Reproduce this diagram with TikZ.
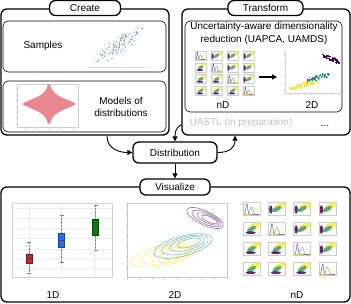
\documentclass[tikz,border=0pt]{standalone}
\usepackage{fontspec}
\setmainfont{Liberation Sans}
\usetikzlibrary{arrows.meta,positioning,calc}
\definecolor{vpurple}{RGB}{68,1,84}
\definecolor{vteal}{RGB}{33,145,140}
\definecolor{vyellow}{RGB}{253,231,37}
\definecolor{sblue}{RGB}{31,119,180}
\definecolor{violinred}{RGB}{232,136,142}
\definecolor{boxred}{RGB}{214,30,40}
\definecolor{boxblue}{RGB}{30,110,255}
\definecolor{boxgreen}{RGB}{0,128,0}
\tikzset{
  panel/.style={draw,line width=1.3pt,rounded corners=6pt,inner sep=0pt},
  tab/.style={draw,fill=white,line width=1.3pt,rounded corners=6pt,minimum height=15pt,inner sep=0pt},
  subpanel/.style={draw,line width=0.6pt,rounded corners=5pt,inner sep=0pt},
  flow/.style={-{Triangle[length=5pt,width=5pt]},line width=0.9pt},
  frm/.style={draw=gray!40,line width=0.35pt},
  dens/.style={line width=0.4pt,opacity=0.8},
}
\newcommand{\pairgrid}[6]{%
  \foreach \r in {0,...,3}{
    \foreach \c in {0,...,3}{
      \begin{scope}[shift={({#1+\c*#3},{#2+\r*#4+#6})},x=#5pt,y=#6pt]
        \draw[frm] (0,0) rectangle (1,1);
        \ifnum\r=\c\relax
          \draw[dens,vpurple] plot[domain=0.05:0.95,samples=25] (\x,{0.05+0.85*exp(-((\x-0.22)/0.07)^2)});
          \draw[dens,vteal] plot[domain=0.05:0.95,samples=25] (\x,{0.05+0.55*exp(-((\x-0.5)/0.12)^2)});
          \draw[dens,vyellow!90!orange] plot[domain=0.05:0.95,samples=25] (\x,{0.05+0.5*exp(-((\x-0.76)/0.11)^2)});
        \else
          \fill[vyellow,opacity=0.75,rotate around={30:(0.64,0.64)}] (0.64,0.64) ellipse[x radius={0.4*#5pt},y radius={0.19*#5pt}];
          \fill[vteal,opacity=0.75,rotate around={30:(0.5,0.46)}] (0.5,0.46) ellipse[x radius={0.3*#5pt},y radius={0.13*#5pt}];
          \ifnum\c>\r\relax
            \fill[vpurple,opacity=0.85] (0.15,0.42) ellipse[x radius={0.1*#5pt},y radius={0.33*#6pt}];
          \else
            \fill[vpurple,opacity=0.85] (0.45,0.18) ellipse[x radius={0.3*#5pt},y radius={0.11*#6pt}];
          \fi
        \fi
      \end{scope}
    }
  }%
}
\newcommand{\boxp}[7]{%
  \draw[gray,densely dotted,line width=0.4pt] (#1,#2) -- (#1,#6);
  \draw[gray,line width=0.4pt] ({#1-2},#2) -- ({#1+2},#2) ({#1-2},#6) -- ({#1+2},#6);
  \filldraw[fill=#7,draw=#7!60!black,line width=0.3pt] ({#1-3},#3) rectangle ({#1+3},#5);
  \draw[black!70,line width=0.4pt] ({#1-3},#4) -- ({#1+3},#4);
}
\begin{document}
\begin{tikzpicture}[x=1pt,y=-1pt,font=\fontsize{10}{12}\selectfont]
  \useasboundingbox (0,0) rectangle (351,303);
  % panels
  \node[panel,minimum width=168pt,minimum height=126pt] (create) at (85,72) {};
  \node[tab,minimum width=71pt] (createtab) at (85,8) {Create};
  \node[subpanel,minimum width=163pt,minimum height=51pt] (samplesbox) at (84.5,46.5) {};
  \node[subpanel,minimum width=163pt,minimum height=51pt] (modelsbox) at (84.5,106.5) {};
  \node (samples) at (43,46) {Samples};
  \node[align=center] (models) at (121,107) {Models of\\distributions};

  \node[panel,minimum width=168pt,minimum height=126pt] (transform) at (266,72) {};
  \node[tab,minimum width=75pt] (transformtab) at (265.5,8) {Transform};
  \node[subpanel,minimum width=157pt,minimum height=91pt] (drbox) at (263.5,66.5) {};
  \node[align=center,font=\fontsize{10}{13}\selectfont] (dr) at (264,33.5) {Uncertainty-aware dimensionality\\reduction (UAPCA, UAMDS)};
  \node (ndlabel) at (223,105) {nD};
  \node (twodlabel) at (312,105) {2D};
  \node[anchor=west,text=gray!50] (uastl) at (186,123) {UASTL (in preparation)};
  \node (dots) at (325,126) {...};

  \node[tab,minimum width=84pt,minimum height=21pt] (dist) at (175,152.5) {Distribution};

  \node[panel,minimum width=349pt,minimum height=115pt] (visualize) at (175.5,244.5) {};
  \node[tab,minimum width=70pt,minimum height=16pt] (vistab) at (175,187) {Visualize};
  \node (onedv) at (53,295) {1D};
  \node (twodv) at (175,295) {2D};
  \node (ndv) at (297,295) {nD};

  % connectors
  \draw[flow] ([xshift=22pt]create.south) .. controls +(0,14) and +(-12,0) .. (dist.west);
  \draw[flow] (dist.east) .. controls +(12,0) and +(0,12) .. ([xshift=-31pt]transform.south);
  \coordinate (tleft) at ($(transform.south west)+(0,-11)$);
  \draw[flow] (tleft) .. controls +(-6,3) and +(0,-8) .. (dist.north);
  \draw[flow] (dist.south) -- (vistab.north);

  % samples
  \draw[gray!30,line width=0.4pt] (88,67) -- (145,67);
  \pgfmathsetseed{7}
  \foreach \k in {1,...,110}{
    \pgfmathsetmacro\t{0.7*(rand+rand)}
    \pgfmathsetmacro\px{116+17*\t+6*rand}
    \pgfmathsetmacro\py{46-11*\t+6*rand}
    \fill[sblue!55] (\px,\py) rectangle ++(1.1,1.1);
  }

  % violin
  \draw[frm] (17,84) rectangle (78,127);
  \foreach \ty in {88,94,...,124} \draw[gray!40,line width=0.3pt] (17,\ty) -- (15.5,\ty);
  \foreach \tx in {24,36,...,72} \draw[gray!40,line width=0.3pt] (\tx,127) -- (\tx,128.5);
  \fill[violinred] plot[domain=-19.5:19.5,samples=80] ({49.8+25.5*exp(-(abs(\x)/8)^1.5)},{104+\x})
    -- plot[domain=19.5:-19.5,samples=80] ({48.2-25.5*exp(-(abs(\x)/8)^1.5)},{104+\x}) -- cycle;

  % nD -> 2D
  \pairgrid{195}{51}{16}{11.7}{11}{9}
  \coordinate (nda) at (259,77);
  \coordinate (ndb) at (277,77);
  \draw[-{Triangle[length=5pt,width=5pt]},line width=1.2pt] (nda) -- (ndb);
  \draw[gray!35,line width=0.35pt] (285,51) -- (285,93) -- (342,93);
  \foreach \ty in {55,62,...,90} \draw[gray!40,line width=0.3pt] (285,\ty) -- (283.5,\ty);
  \foreach \tx in {290,297,...,340} \draw[gray!40,line width=0.3pt] (\tx,93) -- (\tx,94.5);
  \foreach \k in {1,...,70}{
    \pgfmathsetmacro\t{rand}
    \fill[vpurple] ({331+8*\t+2*rand},{58+3.5*\t+1.8*rand}) rectangle ++(1.3,1.3);
  }
  \foreach \k in {1,...,70}{
    \pgfmathsetmacro\t{rand}
    \fill[vteal] ({317+11*\t+3*rand},{77-3.5*\t+2.3*rand}) rectangle ++(1.3,1.3);
  }
  \foreach \k in {1,...,90}{
    \pgfmathsetmacro\t{rand}
    \fill[vyellow] ({302+13*\t+3*rand},{85-3.5*\t+2.3*rand}) rectangle ++(1.3,1.3);
  }

  % 1D boxplot
  \foreach \ty in {208,218,228,238,249,259,268} \draw[gray!15,line width=0.3pt] (12,\ty) -- (112,\ty);
  \foreach \tx in {29,61.5,95.5} \draw[gray!15,line width=0.3pt] (\tx,203) -- (\tx,277);
  \draw[gray!35,line width=0.4pt] (12,203) rectangle (112,277);
  \boxp{29}{242}{254}{258}{263}{273}{boxred}
  \boxp{61.5}{215}{233}{240}{247}{262}{boxblue}
  \boxp{95.5}{205}{219}{226}{235}{250}{boxgreen}

  % 2D contours
  \draw[gray!45,line width=0.4pt] (127,203) rectangle (227,277);
  \foreach \tx in {127,139.5,...,227} \draw[gray!50,line width=0.3pt] (\tx,277) -- (\tx,278.5);
  \foreach \ty in {204,214.5,...,277} \draw[gray!50,line width=0.3pt] (127,\ty) -- (125.5,\ty);
  \foreach \a/\b/\cx/\cy in {35/10/165/255,28/8/168/254.5,21/6/171/254,14/4/174/253.5}
    \draw[vyellow!90!orange,opacity=0.6,line width=0.6pt,rotate around={12:(\cx,\cy)}] (\cx,\cy) ellipse[x radius=\a pt,y radius=\b pt];
  \foreach \a/\b/\cx/\cy in {30/10/183/246,24/8/185/245,18/6/187/244,12/4/189/243}
    \draw[vteal,opacity=0.6,line width=0.6pt,rotate around={15:(\cx,\cy)}] (\cx,\cy) ellipse[x radius=\a pt,y radius=\b pt];
  \foreach \a/\b/\cx/\cy in {20/7/205/218,16/5.5/206.5/218.5,12/4/208/219,8.5/2.7/209.5/219.5}
    \draw[vpurple,opacity=0.55,line width=0.6pt,rotate around={-25:(\cx,\cy)}] (\cx,\cy) ellipse[x radius=\a pt,y radius=\b pt];

  % nD pairs
  \pairgrid{243}{202}{25.3}{20}{17}{13}
\end{tikzpicture}
\end{document}
